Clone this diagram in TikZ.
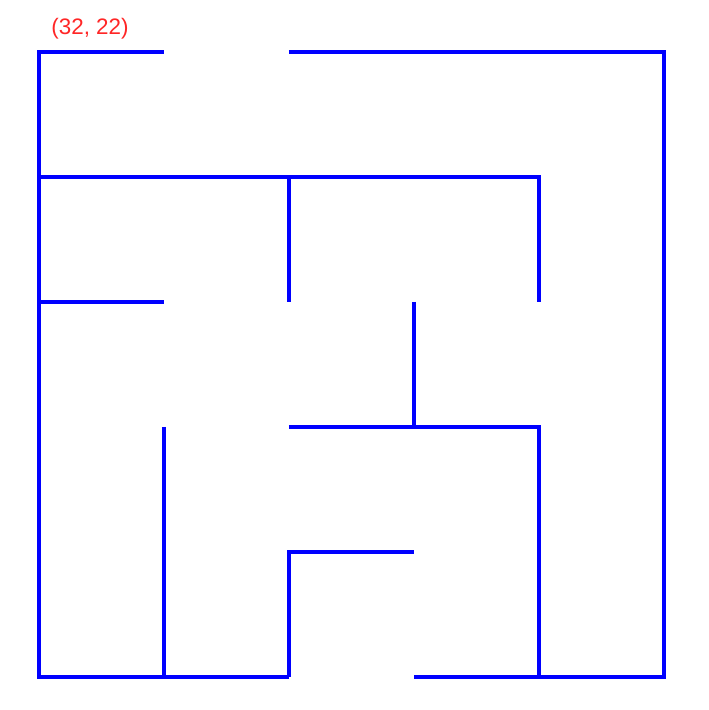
\documentclass[tikz,border=0pt]{standalone}
\usepackage{fontspec}
\setmainfont{Liberation Sans}
\begin{document}
\begin{tikzpicture}[wall/.style={blue, line width=0.7pt}]
            \useasboundingbox (-0.312,-0.264) rectangle (5.36,5.416);
            \node[red!85!white, font=\fontsize{5.1}{6}\selectfont] (start) at (0.408,5.185) {(32, 22)};
            % outer walls
            \draw[wall] (1,5) -- (0,5) -- (0,0) -- (2,0);
            \draw[wall] (2,5) -- (5,5) -- (5,0) -- (3,0);
            % inner walls
            \draw[wall] (0,4) -- (4,4) -- (4,3);
            \draw[wall] (2,4) -- (2,3);
            \draw[wall] (0,3) -- (1,3);
            \draw[wall] (3,3) -- (3,2);
            \draw[wall] (2,2) -- (4,2) -- (4,0);
            \draw[wall] (1,2) -- (1,0);
            \draw[wall] (2,0) -- (2,1) -- (3,1);
        \end{tikzpicture}
\end{document}
